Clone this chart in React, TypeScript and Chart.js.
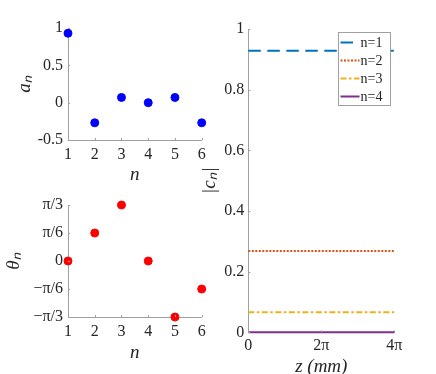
import React, { useEffect, useRef } from "react";
import { Chart, registerables } from "chart.js";
Chart.register(...registerables);

// ---- data ----
const nValues = [1, 2, 3, 4, 5, 6];
const aValues = [0.93, -0.27, 0.07, 0.0, 0.07, -0.27];
const aTickValues = [-0.5, 0, 0.5, 1];
const aTickLabels = ["-0.5", "0", "0.5", "1"];
// theta_n in units of pi
const thetaOverPi = [0, 1 / 6, 1 / 3, 0, -1 / 3, -1 / 6];
const thetaTickOverPi = [-1 / 3, -1 / 6, 0, 1 / 6, 1 / 3];
const thetaTickLabels = ["−π/3", "−π/6", "0", "π/6", "π/3"];
const cLabels = ["n=1", "n=2", "n=3", "n=4"];
const cValues = [0.928, 0.268, 0.066, 0.0];
const zStartEnd = [0, 4 * Math.PI];
const zTickValues = [0, 2 * Math.PI, 4 * Math.PI];
const zTickLabels = ["0", "2π", "4π"];
const cTickValues = [0, 0.2, 0.4, 0.6, 0.8, 1];
const cTickLabels = ["0", "0.2", "0.4", "0.6", "0.8", "1"];

const FONT = "'Liberation Serif', serif";
const TEXT = "#262626";
const AXIS = "#a0a0a0";
const lineColors = ["#0072BD", "#D95319", "#EDB120", "#7E2F8E"];
const lineDashes = [[12.5, 6.5], [2, 1.5], [6, 2.5, 2.5, 2.5], []];

const innerTicks = {
  id: "innerTicks",
  afterDraw(chart: any) {
    const { ctx, chartArea } = chart;
    const xs = chart.scales.x;
    const ys = chart.scales.y;
    ctx.save();
    ctx.strokeStyle = AXIS;
    ctx.lineWidth = 1;
    ctx.beginPath();
    for (const t of xs.ticks) {
      const px = Math.round(xs.getPixelForValue(t.value)) + 0.5;
      ctx.moveTo(px, chartArea.bottom);
      ctx.lineTo(px, chartArea.bottom - 2);
    }
    for (const t of ys.ticks) {
      const py = Math.round(ys.getPixelForValue(t.value)) + 0.5;
      ctx.moveTo(chartArea.left, py);
      ctx.lineTo(chartArea.left + 2, py);
    }
    ctx.stroke();
    ctx.restore();
  },
};

const boxLegend = {
  id: "boxLegend",
  afterDraw(chart: any) {
    const { ctx } = chart;
    const x0 = 138.5, y0 = 32.5, w = 52, h = 73;
    ctx.save();
    ctx.fillStyle = "#ffffff";
    ctx.fillRect(x0, y0, w, h);
    ctx.strokeStyle = AXIS;
    ctx.lineWidth = 1;
    ctx.strokeRect(x0, y0, w, h);
    chart.data.datasets.forEach((ds: any, i: number) => {
      const y = 42.5 + i * 18;
      ctx.strokeStyle = ds.borderColor;
      ctx.lineWidth = ds.borderWidth;
      ctx.setLineDash(ds.borderDash || []);
      ctx.beginPath();
      ctx.moveTo(x0 + 2, y);
      ctx.lineTo(x0 + 21, y);
      ctx.stroke();
      ctx.setLineDash([]);
      ctx.fillStyle = TEXT;
      ctx.font = `14px ${FONT}`;
      ctx.textBaseline = "middle";
      ctx.textAlign = "left";
      ctx.fillText(ds.label, x0 + 22, y + 0.5);
    });
    ctx.restore();
  },
};

function fixedY(width: number) {
  return (s: any) => {
    s.width = width;
  };
}
function fixedX(height: number) {
  return (s: any) => {
    s.height = height;
  };
}

const tickFont = { family: FONT, size: 16 };
const titleFont = { family: FONT, size: 19, style: "italic" as const, lineHeight: 1 };

function makeScatterConfig(values: number[], color: string, opts: any) {
  return {
    type: "scatter" as const,
    data: {
      datasets: [
        {
          data: nValues.map((n, i) => ({ x: n, y: values[i] })),
          backgroundColor: color,
          borderColor: color,
          pointRadius: 4,
          pointHoverRadius: 4,
          clip: false,
        },
      ],
    },
    options: {
      animation: false,
      responsive: false,
      events: [],
      layout: { padding: opts.padding },
      plugins: { legend: { display: false }, tooltip: { enabled: false } },
      scales: {
        x: {
          type: "linear",
          min: 1,
          max: 6,
          afterBuildTicks: (s: any) => {
            s.ticks = nValues.map((v) => ({ value: v }));
          },
          afterFit: fixedX(opts.xHeight),
          grid: { display: false, drawTicks: false },
          border: { display: true, color: AXIS, width: 1 },
          ticks: { color: TEXT, font: tickFont, padding: 5, maxRotation: 0, callback: (v: any) => String(v) },
          title: { display: true, text: "n", color: TEXT, font: titleFont, padding: { top: 0, bottom: opts.xTitlePad } },
        },
        y: {
          type: "linear",
          min: opts.yMin,
          max: opts.yMax,
          afterBuildTicks: (s: any) => {
            s.ticks = opts.yTicks.map((v: number) => ({ value: v }));
          },
          afterFit: fixedY(68),
          grid: { display: false, drawTicks: false },
          border: { display: true, color: AXIS, width: 1 },
          ticks: {
            color: TEXT,
            font: tickFont,
            padding: 5,
            callback: (_v: any, i: number) => opts.yLabels[i],
          },
          title: { display: true, text: opts.yTitle, color: TEXT, font: titleFont, padding: { top: opts.yTitlePad, bottom: 0 } },
        },
      },
    },
    plugins: [innerTicks],
  };
}

function useChart(ref: any, makeConfig: () => any) {
  useEffect(() => {
    const chart = new Chart(ref.current, makeConfig());
    return () => chart.destroy();
  }, []);
}

export default function App() {
  const aRef = useRef<HTMLCanvasElement>(null);
  const tRef = useRef<HTMLCanvasElement>(null);
  const cRef = useRef<HTMLCanvasElement>(null);

  useChart(aRef, () =>
    makeScatterConfig(aValues, "#0000FF", {
      padding: { left: 0, top: 28, right: 13.3, bottom: 0 },
      xHeight: 45,
      xTitlePad: 0.5,
      yMin: -0.5,
      yMax: 1,
      yTicks: aTickValues,
      yLabels: aTickLabels,
      yTitle: "aₙ",
      yTitlePad: 15,
    })
  );

  useChart(tRef, () =>
    makeScatterConfig(
      thetaOverPi.map((t) => t * Math.PI),
      "#FF0000",
      {
        padding: { left: 0, top: 20, right: 13.3, bottom: 0 },
        xHeight: 57,
        xTitlePad: 11.5,
        yMin: -Math.PI / 3,
        yMax: Math.PI / 3,
        yTicks: thetaTickOverPi.map((t) => t * Math.PI),
        yLabels: thetaTickLabels,
        yTitle: "θₙ",
        yTitlePad: 4,
      }
    )
  );

  useChart(cRef, () => ({
    type: "line" as const,
    data: {
      datasets: cLabels.map((label, i) => ({
        label,
        data: zStartEnd.map((z) => ({ x: z, y: cValues[i] })),
        borderColor: lineColors[i],
        backgroundColor: lineColors[i],
        borderWidth: 2,
        borderDash: lineDashes[i],
        pointRadius: 0,
        fill: false,
        clip: false,
      })),
    },
    options: {
      animation: false,
      responsive: false,
      events: [],
      layout: { padding: { left: 0, top: 29, right: 41.7, bottom: 0 } },
      plugins: { legend: { display: false }, tooltip: { enabled: false } },
      scales: {
        x: {
          type: "linear",
          min: 0,
          max: 4 * Math.PI,
          afterBuildTicks: (s: any) => {
            s.ticks = zTickValues.map((v) => ({ value: v }));
          },
          afterFit: fixedX(41.7),
          grid: { display: false, drawTicks: false },
          border: { display: true, color: AXIS, width: 1 },
          ticks: { color: TEXT, font: tickFont, padding: 4, maxRotation: 0, callback: (_v: any, i: number) => zTickLabels[i] },
          title: { display: true, text: "z (mm)", color: TEXT, font: titleFont, padding: { top: 0, bottom: -2 } },
        },
        y: {
          type: "linear",
          min: 0,
          max: 1,
          afterBuildTicks: (s: any) => {
            s.ticks = cTickValues.map((v) => ({ value: v }));
          },
          afterFit: fixedY(48.3),
          grid: { display: false, drawTicks: false },
          border: { display: true, color: AXIS, width: 1 },
          ticks: { color: TEXT, font: tickFont, padding: 4, callback: (_v: any, i: number) => cTickLabels[i] },
          title: { display: true, text: "|cₙ|", color: TEXT, font: titleFont, padding: { top: 0.5, bottom: 0 } },
        },
      },
    },
    plugins: [innerTicks, boxLegend],
  }));

  return (
    <div style={{ position: "fixed", left: 0, top: 0, width: 436, height: 374, background: "#fff" }}>
      <canvas ref={aRef} width={215} height={185} style={{ position: "absolute", left: 0, top: 0 }} />
      <canvas ref={tRef} width={215} height={189} style={{ position: "absolute", left: 0, top: 185 }} />
      <canvas ref={cRef} width={236} height={374} style={{ position: "absolute", left: 200, top: 0 }} />
    </div>
  );
}
